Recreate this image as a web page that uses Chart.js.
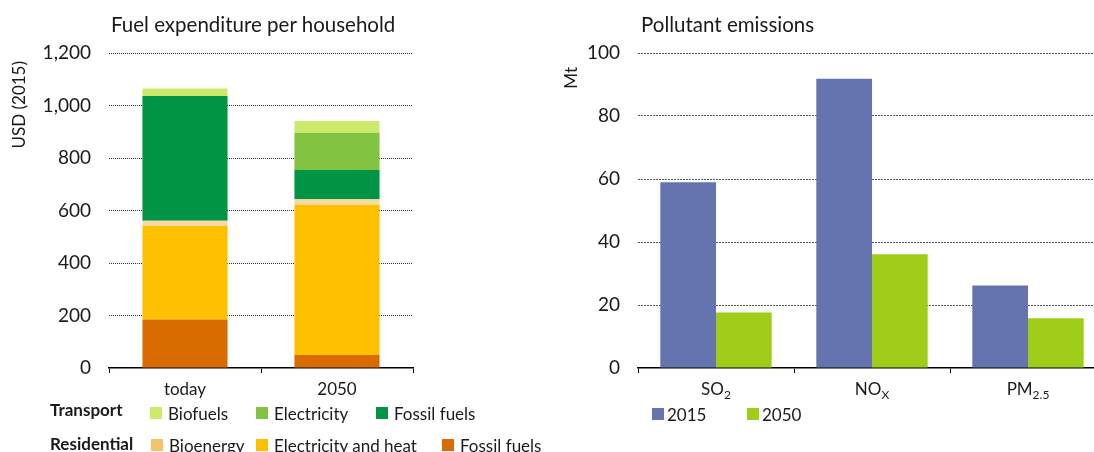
<!DOCTYPE html>
<html>
<head>
<meta charset="utf-8">
<script src="https://cdn.jsdelivr.net/npm/chart.js@4.4.0/dist/chart.umd.min.js"></script>
<style>
  html, body { margin: 0; padding: 0; background: #fff; overflow: hidden; }
  #wrap { position: relative; width: 1094px; height: 452px; overflow: hidden; font-family: Lato, sans-serif; color: #1a1a1a; }
  .box { position: absolute; top: 0; height: 452px; }
  .title { position: absolute; font-size: 20.5px; line-height: 20px; white-space: nowrap; }
  .lg { position: absolute; font-size: 17px; line-height: 17px; white-space: nowrap; }
  .lg i { position: absolute; width: 12px; height: 12px; }
  .rowlabel { position: absolute; font-size: 17px; line-height: 17px; font-weight: bold; }
</style>
</head>
<body>
<div id="wrap">
  <div class="box" style="left:0;width:540px"><canvas id="fuelChart"></canvas></div>
  <div class="box" style="left:540px;width:570px"><canvas id="emisChart"></canvas></div>
  <div class="title" style="left:111px;top:14px">Fuel expenditure per household</div>
  <div class="title" style="left:641px;top:14px">Pollutant emissions</div>
  <div id="fuelLegend"></div>
  <div id="emisLegend"></div>
</div>
<script>
// household fuel spend, USD (2015), bottom of stack first
const fuelCategories = ['today', '2050'];
const resFossil = [185, 50];
const resElecHeat = [356, 571];
const resBioenergy = [20, 22];
const trFossil = [475, 111];
const trElectricity = [0, 142];
const trBiofuels = [29, 45];
const fuelTicks = { min: 0, max: 1200, step: 200 };

// pollutant emissions, Mt
const pollutantNames = ['SO', 'NO', 'PM'];
const pollutantSubs = ['2', 'X', '2.5'];
const emissions2015 = [59, 91.8, 26.2];
const emissions2050 = [17.6, 36.1, 15.8];
const emisTicks = { min: 0, max: 100, step: 20 };

Chart.defaults.font.family = 'Lato, sans-serif';
Chart.defaults.font.size = 17;
Chart.defaults.color = '#1a1a1a';
Chart.defaults.animation = false;
Chart.defaults.plugins.legend.display = false;
Chart.defaults.plugins.tooltip.enabled = false;
Chart.defaults.maintainAspectRatio = false;

function yScale(t, width, dash, gridColor) {
    return {
        stacked: true,
        min: t.min, max: t.max,
        ticks: { stepSize: t.step, padding: 18, color: '#1a1a1a', font: { size: 19 } },
        grid: {
            drawTicks: false,
            color: c => c.tick.value === 0 ? 'rgba(0,0,0,0)' : gridColor,
            lineWidth: 1
        },
        border: { display: false, dash: dash },
        afterFit: s => { s.width = width; }
    };
}

function xScale(showTicks) {
    return {
        stacked: true,
        ticks: { display: showTicks, padding: 6, font: { size: 17 }, maxRotation: 0 },
        grid: { drawOnChartArea: false, drawTicks: true, tickLength: 5, color: '#000', offset: true },
        border: { display: true, color: '#000', width: 1.5 },
        afterFit: s => { s.height = 40; }
    };
}

// rotated y-axis title, placed like the original
const yTitle = {
    id: 'yTitle',
    afterDraw(chart, args, opts) {
        const ctx = chart.ctx;
        ctx.save();
        ctx.font = '17px Lato, sans-serif';
        ctx.fillStyle = '#1a1a1a';
        ctx.translate(opts.x, opts.top);
        ctx.rotate(-Math.PI / 2);
        ctx.textAlign = 'right';
        ctx.textBaseline = 'middle';
        ctx.fillText(opts.text, 0, 0);
        ctx.restore();
    }
};

const fuelSeries = [
    { label: 'Fossil fuels', group: 'Residential', data: resFossil, color: '#D96C00' },
    { label: 'Electricity and heat', group: 'Residential', data: resElecHeat, color: '#FFC000' },
    { label: 'Bioenergy', group: 'Residential', data: resBioenergy, color: '#F9D9A2', legendColor: '#F2C46F' },
    { label: 'Fossil fuels', group: 'Transport', data: trFossil, color: '#009444' },
    { label: 'Electricity', group: 'Transport', data: trElectricity, color: '#82C341' },
    { label: 'Biofuels', group: 'Transport', data: trBiofuels, color: '#CDEB6B' }
];

new Chart(document.getElementById('fuelChart'), {
    type: 'bar',
    data: {
        labels: fuelCategories,
        datasets: fuelSeries.map(s => ({
            label: s.group + ' ' + s.label,
            data: s.data,
            backgroundColor: s.color,
            borderWidth: 0,
            categoryPercentage: 0.56,
            barPercentage: 1
        }))
    },
    options: {
        layout: { padding: { top: 53, right: 127, bottom: 44, left: 0 } },
        scales: {
            x: xScale(true),
            y: yScale(fuelTicks, 109, [1, 1], '#333')
        },
        plugins: { yTitle: { text: 'USD (2015)', x: 20, top: 61 } }
    },
    plugins: [yTitle]
});

// x labels with subscripts (SO2, NOX, PM2.5)
const subLabels = {
    id: 'subLabels',
    afterDraw(chart) {
        const ctx = chart.ctx;
        const xs = chart.scales.x;
        const y = chart.chartArea.bottom + 27;
        ctx.save();
        ctx.fillStyle = '#1a1a1a';
        ctx.textBaseline = 'alphabetic';
        ctx.textAlign = 'left';
        pollutantNames.forEach((name, i) => {
            ctx.font = '17px Lato, sans-serif';
            const w1 = ctx.measureText(name).width;
            ctx.font = '12px Lato, sans-serif';
            const w2 = ctx.measureText(pollutantSubs[i]).width;
            const x0 = xs.getPixelForValue(i) - (w1 + w2) / 2;
            ctx.font = '17px Lato, sans-serif';
            ctx.fillText(name, x0, y);
            ctx.font = '12px Lato, sans-serif';
            ctx.fillText(pollutantSubs[i], x0 + w1, y + 4);
        });
        ctx.restore();
    }
};

new Chart(document.getElementById('emisChart'), {
    type: 'bar',
    data: {
        labels: pollutantNames.map((n, i) => n + pollutantSubs[i]),
        datasets: [
            { label: '2015', data: emissions2015, backgroundColor: '#6574AE', borderWidth: 0, categoryPercentage: 0.714, barPercentage: 1 },
            { label: '2050', data: emissions2050, backgroundColor: '#A0CC1A', borderWidth: 0, categoryPercentage: 0.714, barPercentage: 1 }
        ]
    },
    options: {
        layout: { padding: { top: 53, right: 4, bottom: 44, left: 0 } },
        scales: {
            x: Object.assign(xScale(false), { stacked: false }),
            y: Object.assign(yScale(emisTicks, 98, [2, 1], '#555'), { stacked: false })
        },
        plugins: { yTitle: { text: 'Mt', x: 32, top: 67 } }
    },
    plugins: [subLabels, yTitle]
});

// legends
function addItem(parent, cls, left, top, text, color, gap) {
    const d = document.createElement('div');
    d.className = cls;
    d.style.left = left + 'px';
    d.style.top = top + 'px';
    d.textContent = text;
    if (color) {
        d.style.paddingLeft = gap + 'px';
        const sq = document.createElement('i');
        sq.style.left = '0px';
        sq.style.top = '2px';
        sq.style.background = color;
        d.prepend(sq);
    }
    parent.appendChild(d);
}

const fuelLegend = document.getElementById('fuelLegend');
const legendRows = [
    { name: 'Transport', top: 401, itemTop: 405, lefts: [150, 256, 376], order: ['Biofuels', 'Electricity', 'Fossil fuels'] },
    { name: 'Residential', top: 435, itemTop: 437, lefts: [151, 256, 442], order: ['Bioenergy', 'Electricity and heat', 'Fossil fuels'] }
];
legendRows.forEach(r => {
    addItem(fuelLegend, 'rowlabel', 50, r.top, r.name);
    r.order.forEach((lab, j) => {
        const s = fuelSeries.find(f => f.group === r.name && f.label === lab);
        addItem(fuelLegend, 'lg', r.lefts[j], r.itemTop, s.label, s.legendColor || s.color, 18);
    });
});

const emisLegend = document.getElementById('emisLegend');
addItem(emisLegend, 'lg', 652, 406, '2015', '#6574AE', 15);
addItem(emisLegend, 'lg', 747, 406, '2050', '#A0CC1A', 15);
</script>
</body>
</html>
